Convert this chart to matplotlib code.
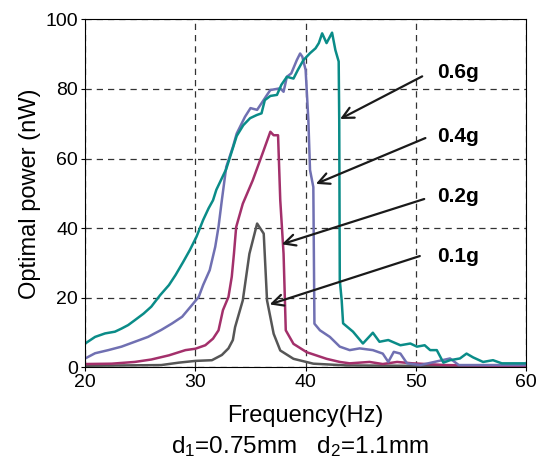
import numpy as np
import matplotlib
matplotlib.use("Agg")
import matplotlib.pyplot as plt

plt.rcParams['font.family'] = ['Liberation Sans', 'DejaVu Sans']
plt.rcParams['mathtext.default'] = 'regular'

# traced curves: frequency (Hz), optimal power (nW)
f_06 = [20, 20.9, 21.8, 22.7, 23.3, 23.9, 24.5, 25.3, 26, 26.8, 27.6, 28.2, 28.9, 29.5,
        30.1, 30.7, 31.2, 31.6, 31.9, 32.8, 33.15, 33.75, 34.35, 34.96, 35.56, 36.0, 36.3,
        36.8, 37.4, 37.8, 38.3, 38.9, 39.3, 39.8, 40.4, 40.9, 41.2, 41.5, 41.9, 42.4, 42.7,
        43.0, 43.05, 43.1, 43.27, 43.4, 44.3, 45.2, 46.1, 46.7, 47.5, 48.6, 49.5, 50.1,
        50.8, 51.3, 51.9, 52.5, 53.1, 54.0, 54.6, 55.2, 56.1, 57.0, 57.8, 60]
p_06 = [6.8, 8.7, 9.7, 10.2, 11.1, 12.1, 13.5, 15.4, 17.4, 20.7, 23.6, 26.5, 30.3, 33.7,
        37.5, 42.3, 45.7, 48, 51, 57, 60.5, 66.5, 69.6, 71.6, 72.5, 73, 76.8,
        78, 78.3, 81.2, 83.5, 83.0, 85.5, 88.3, 90.3, 91.7, 93.2, 96, 93.2, 96.2, 91.2,
        87.9, 71, 25, 19.3, 12.6, 10.2, 6.8, 9.9, 7.3, 7.8, 6.3, 6.8, 5.9,
        6.3, 4.9, 4.9, 1.3, 2.0, 2.5, 3.9, 2.8, 1.5, 2.0, 1.1, 1.1]

f_04 = [20, 20.9, 22.1, 23.3, 24.5, 25.7, 26.9, 27.9, 28.8, 29.7, 30.3, 30.7, 31.3, 31.8,
        32.1, 32.4, 32.8, 33.4, 33.75, 34.5, 35.0, 35.6, 36.0, 36.5, 36.8, 37.7, 38.0,
        38.3, 38.7, 39.2, 39.5, 39.7, 40.0, 40.25, 40.4, 40.7, 40.8, 41.3, 42.2, 43.1,
        44.0, 44.9, 46.1, 47.0, 47.5, 48.0, 48.6, 49.2, 50.4, 53.1, 53.9, 60]
p_04 = [2.5, 4, 4.9, 5.9, 7.3, 8.7, 10.7, 12.6, 14.5, 17.9, 20.2, 23.6, 27.9, 34.6,
        40.4, 48, 57.6, 63.3, 67.2, 72, 74.5, 74, 75.9, 78.3, 79.7, 80.2, 79.2,
        83.5, 84.5, 88.3, 90.2, 89.3, 85.5, 71, 56.7, 51.8, 12.5, 10.6, 8.7, 5.9,
        4.9, 5.4, 4.9, 3.9, 1.5, 4.4, 3.9, 1.1, 0.6, 2.5, 0.6, 0.6]

f_02 = [20, 22.4, 24.5, 26, 27.6, 29.1, 30, 30.9, 31.6, 32.1, 32.5, 33, 33.3, 33.5, 33.7,
        34.3, 35.2, 36.2, 36.8, 37.1, 37.5, 37.7, 38, 38.2, 38.9, 40.1, 41.9, 43.1, 44,
        45.8, 47, 48.3, 49.7, 52.7, 60]
p_02 = [0.9, 1.0, 1.5, 2.2, 3.4, 4.9, 5.3, 6.3, 8.2, 10.6, 16.4, 20.2, 26, 32.7, 40.3,
        47, 53.7, 62.4, 67.7, 66.7, 66.7, 48, 32.6, 10.6, 6.7, 4.3, 2.4, 1.5, 1.1,
        1.5, 0.9, 1.5, 1.1, 0.6, 0.3]

f_01 = [20, 26.9, 28.5, 30, 31.5, 32.4, 33, 33.4, 33.6, 34.3, 34.9, 35.6, 36.2, 36.5,
        37.1, 37.7, 38.9, 40.7, 43.7, 60]
p_01 = [0.4, 0.6, 1.3, 1.8, 2.0, 3.5, 5.4, 7.8, 11.5, 19.2, 32.6, 41.3, 38.4, 19.2,
        9.6, 4.8, 2.4, 1, 0.5, 0.2]

labels = ['0.6g', '0.4g', '0.2g', '0.1g']
label_pos = [(51.9, 84.6), (51.9, 66.2), (51.9, 49), (51.9, 31.7)]
arrow_start = [(50.8, 84), (51.1, 66.2), (51, 48.6), (50.6, 32.2)]
arrow_tip = [(42.9, 71), (40.7, 52.4), (37.6, 35.1), (36.5, 17.8)]

fig = plt.figure(figsize=(5.39, 4.63), dpi=100)
ax = fig.add_axes([0.158, 0.207, 0.818, 0.751])

ax.plot(f_01, p_01, color='#565656', lw=1.8)
ax.plot(f_02, p_02, color='#A3306B', lw=1.8)
ax.plot(f_04, p_04, color='#7070B2', lw=1.8)
ax.plot(f_06, p_06, color='#0A8C88', lw=1.8)

for lab, (lx, ly), st, tip in zip(labels, label_pos, arrow_start, arrow_tip):
    ax.annotate('', xy=tip, xytext=st,
                arrowprops=dict(arrowstyle='->', color='#1a1a1a', lw=1.6,
                                mutation_scale=20))
    ax.text(lx, ly, lab, fontsize=15, fontweight='bold', va='center', ha='left')

ax.set_xlim(20, 60)
ax.set_ylim(0, 100)
ax.set_xticks([20, 30, 40, 50, 60])
ax.set_yticks([0, 20, 40, 60, 80, 100])
ax.grid(True, linestyle=(0, (5, 4)), color='#333333', lw=0.9)
ax.tick_params(direction='out', labelsize=14, length=3, pad=2)
ax.set_xlabel('Frequency(Hz)', fontsize=17, labelpad=10)
ax.set_ylabel('Optimal power (nW)', fontsize=17, labelpad=3)

fig.text(0.557, 0.035, 'd$_1$=0.75mm   d$_2$=1.1mm', fontsize=17.5, ha='center', va='center')

fig.savefig('out.png', dpi=100)
